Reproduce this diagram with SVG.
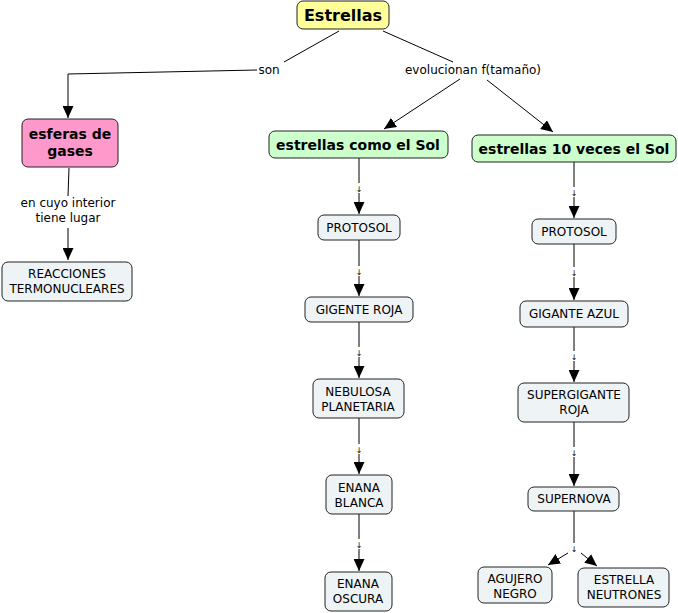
<svg xmlns="http://www.w3.org/2000/svg" width="678" height="613" viewBox="0 0 678 613">
<style>
.n rect{stroke:#222;stroke-width:1}
.root{fill:#ffff99}
.pink{fill:#ff99cc}
.green{fill:#ccffcc}
.plain{fill:#eef3f5}
text{font-family:"DejaVu Sans",Verdana,sans-serif;fill:#000;text-anchor:middle}
.t{font-size:12px}
.b{font-size:14px;font-weight:bold}
.big{font-size:16px;font-weight:bold}
.lbl{font-size:12px}
.tiny{font-size:8px;fill:#000}
#links line,#links polyline{stroke:#000;stroke-width:1;fill:none}
.a{marker-end:url(#arr)}
</style>
<defs>
<marker id="arr" markerUnits="userSpaceOnUse" markerWidth="12" markerHeight="11" refX="12" refY="5.5" orient="auto">
<path d="M0,0 L12,5.5 L0,11 z" fill="#000"/>
</marker>
</defs>
<rect width="678" height="613" fill="#fff"/>
<g id="links">
<line x1="339" y1="31" x2="284" y2="62"/>
<polyline class="a" points="257,70 68,74 68,118"/>
<line x1="383" y1="31" x2="453" y2="62"/>
<line class="a" x1="460" y1="79" x2="384" y2="129"/>
<line class="a" x1="487" y1="80" x2="553" y2="132"/>
<line x1="69" y1="168" x2="68" y2="196"/>
<line class="a" x1="68" y1="228" x2="68" y2="260"/>
<line x1="359" y1="158" x2="359" y2="183"/>
<line class="a" x1="359" y1="193" x2="359" y2="214"/>
<line x1="359" y1="240" x2="359" y2="266"/>
<line class="a" x1="359" y1="276" x2="359" y2="296"/>
<line x1="359" y1="322" x2="359" y2="347"/>
<line class="a" x1="359" y1="357" x2="359" y2="378"/>
<line x1="359" y1="418" x2="359" y2="444"/>
<line class="a" x1="359" y1="454" x2="359" y2="474"/>
<line x1="359" y1="514" x2="359" y2="539"/>
<line class="a" x1="359" y1="549" x2="359" y2="571"/>
<line x1="574" y1="162" x2="574" y2="187"/>
<line class="a" x1="574" y1="197" x2="574" y2="218"/>
<line x1="574" y1="244" x2="574" y2="267"/>
<line class="a" x1="574" y1="277" x2="574" y2="300"/>
<line x1="574" y1="327" x2="574" y2="351"/>
<line class="a" x1="574" y1="361" x2="574" y2="382"/>
<line x1="574" y1="422" x2="574" y2="447"/>
<line class="a" x1="574" y1="457" x2="574" y2="486"/>
<line x1="574" y1="511" x2="574" y2="543"/>
<line class="a" x1="568" y1="553" x2="548" y2="565"/>
<line class="a" x1="581" y1="553" x2="597" y2="566"/>
<text class="lbl" x="269" y="74">son</text>
<text class="lbl" x="473" y="74">evolucionan f(tamaño)</text>
<text class="lbl" x="68" y="207">en cuyo interior</text>
<text class="lbl" x="68" y="222">tiene lugar</text>
<text class="tiny" x="359" y="192">↓</text>
<text class="tiny" x="359" y="275">↓</text>
<text class="tiny" x="359" y="356">↓</text>
<text class="tiny" x="359" y="453">↓</text>
<text class="tiny" x="359" y="548">↓</text>
<text class="tiny" x="574" y="196">↓</text>
<text class="tiny" x="574" y="276">↓</text>
<text class="tiny" x="574" y="360">↓</text>
<text class="tiny" x="574" y="456">↓</text>
<text class="tiny" x="574" y="552">↓</text>
</g>
<g id="estrellas" class="n"><rect class="root" x="297" y="1" width="92" height="28" rx="6"/><text class="big" x="343" y="21">Estrellas</text></g>
<g id="esferas" class="n"><rect class="pink" x="22" y="119" width="96" height="48" rx="6"/><text class="b" x="70" y="139">esferas de</text><text class="b" x="70" y="156">gases</text></g>
<g id="reacciones" class="n"><rect class="plain" x="2" y="262" width="130" height="39" rx="6"/><text class="t" x="67" y="278">REACCIONES</text><text class="t" x="67" y="293">TERMONUCLEARES</text></g>
<g id="comoSol" class="n"><rect class="green" x="269" y="131" width="179" height="27" rx="6"/><text class="b" x="358" y="150">estrellas como el Sol</text></g>
<g id="diezSol" class="n"><rect class="green" x="472" y="135" width="204" height="27" rx="6"/><text class="b" x="574" y="154">estrellas 10 veces el Sol</text></g>
<g id="protosol1" class="n"><rect class="plain" x="318" y="215" width="82" height="25" rx="6"/><text class="t" x="359" y="232">PROTOSOL</text></g>
<g id="gigenteRoja" class="n"><rect class="plain" x="305" y="297" width="108" height="25" rx="6"/><text class="t" x="359" y="314">GIGENTE ROJA</text></g>
<g id="nebulosa" class="n"><rect class="plain" x="313" y="379" width="91" height="39" rx="6"/><text class="t" x="358" y="396">NEBULOSA</text><text class="t" x="358" y="411">PLANETARIA</text></g>
<g id="enanaBlanca" class="n"><rect class="plain" x="326" y="475" width="66" height="39" rx="6"/><text class="t" x="359" y="492">ENANA</text><text class="t" x="359" y="507">BLANCA</text></g>
<g id="enanaOscura" class="n"><rect class="plain" x="325" y="572" width="67" height="39" rx="6"/><text class="t" x="358" y="588">ENANA</text><text class="t" x="358" y="603">OSCURA</text></g>
<g id="protosol2" class="n"><rect class="plain" x="532" y="219" width="84" height="25" rx="6"/><text class="t" x="574" y="236">PROTOSOL</text></g>
<g id="giganteAzul" class="n"><rect class="plain" x="520" y="301" width="108" height="26" rx="6"/><text class="t" x="574" y="318">GIGANTE AZUL</text></g>
<g id="supergigante" class="n"><rect class="plain" x="518" y="383" width="111" height="39" rx="6"/><text class="t" x="574" y="399">SUPERGIGANTE</text><text class="t" x="574" y="414">ROJA</text></g>
<g id="supernova" class="n"><rect class="plain" x="528" y="487" width="91" height="24" rx="6"/><text class="t" x="574" y="503">SUPERNOVA</text></g>
<g id="agujero" class="n"><rect class="plain" x="478" y="567" width="74" height="36" rx="6"/><text class="t" x="515" y="583">AGUJERO</text><text class="t" x="515" y="598">NEGRO</text></g>
<g id="neutrones" class="n"><rect class="plain" x="578" y="568" width="91" height="39" rx="6"/><text class="t" x="624" y="584">ESTRELLA</text><text class="t" x="624" y="599">NEUTRONES</text></g>
</svg>
